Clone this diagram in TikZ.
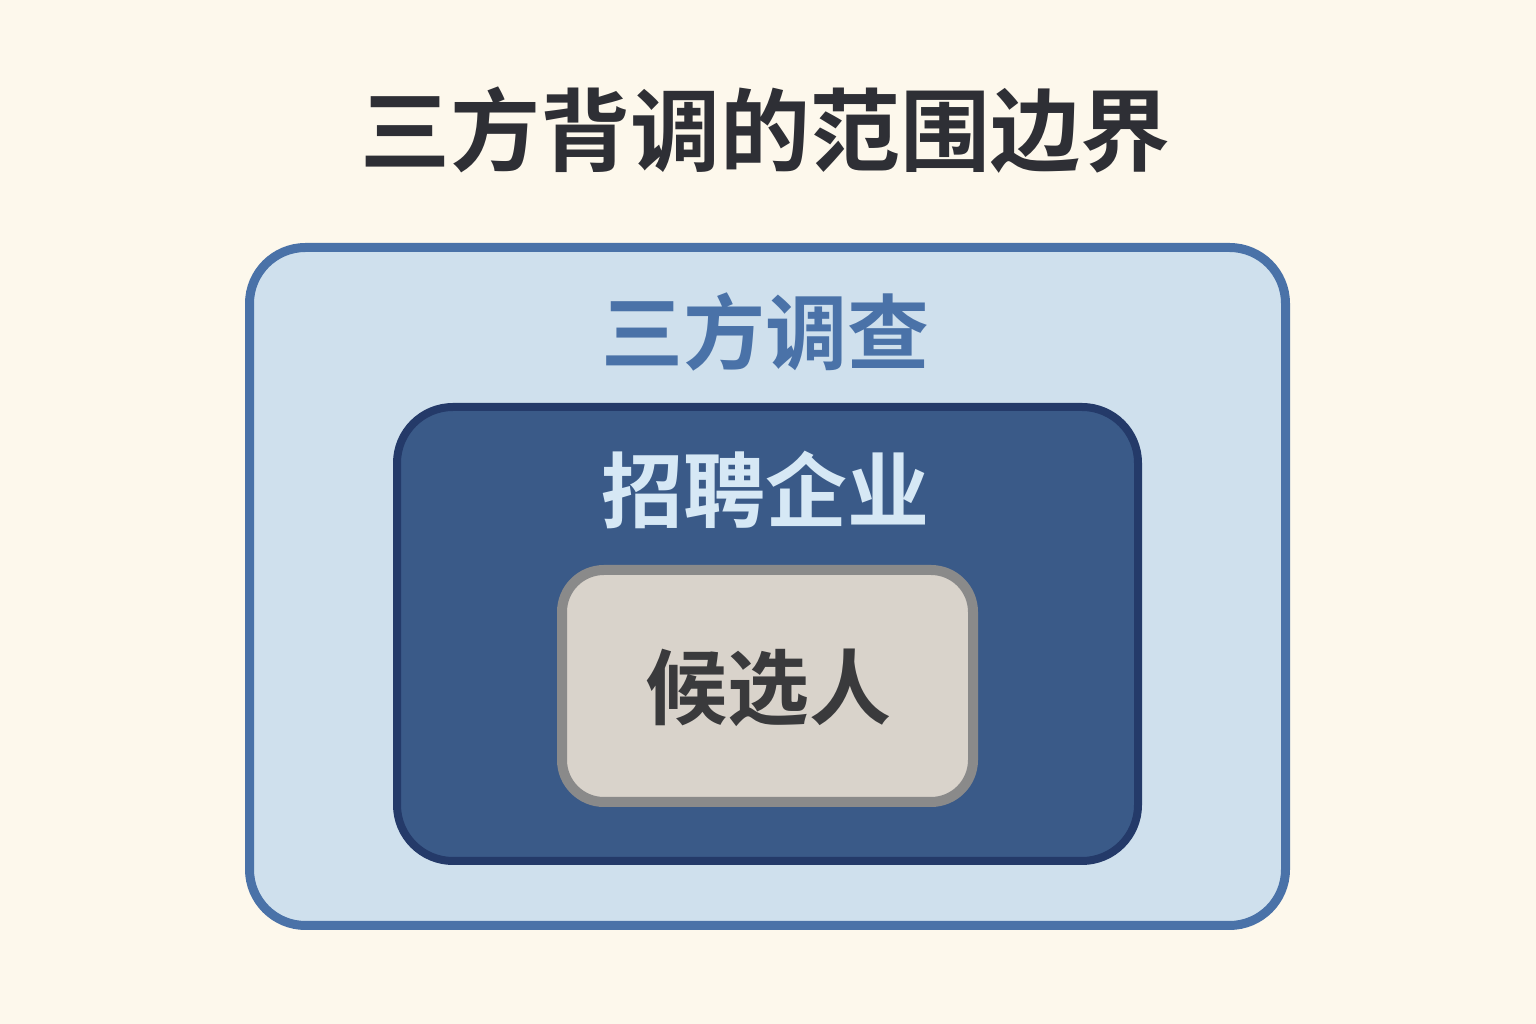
\documentclass[tikz,border=0pt]{standalone}
\usepackage{fontspec}
\newfontfamily\cjk{Noto Sans CJK SC}[BoldFont={Noto Sans CJK SC Bold}]
\definecolor{bgcream}{HTML}{FDF8EC}
\definecolor{outerfill}{HTML}{CFE0ED}
\definecolor{outerline}{HTML}{4A72A8}
\definecolor{innerfill}{HTML}{3A5A88}
\definecolor{innerline}{HTML}{243A69}
\definecolor{corefill}{HTML}{D9D3CB}
\definecolor{coreline}{HTML}{8A8A8A}
\definecolor{titlegray}{HTML}{2E2F35}
\definecolor{lighttext}{HTML}{D6E8F5}
\definecolor{coretext}{HTML}{3A3A3C}
\begin{document}
\begin{tikzpicture}[x=1pt, y=1pt,
  box/.style = {draw, rounded corners=56pt, inner sep=0pt},
  label/.style = {font=\cjk\bfseries\fontsize{82}{82}\selectfont, inner sep=0pt}]
\fill[bgcream] (0,0) rectangle (1536,1024);
\useasboundingbox (0,0) rectangle (1536,1024);

\node[label, text=titlegray, font=\cjk\bfseries\fontsize{90}{90}\selectfont] (title) at (765,894) {三方背调的范围边界};

\node[box, fill=outerfill, draw=outerline, line width=9pt, minimum width=1036pt, minimum height=678pt] (outer) at (767.5,437.5) {};
\node[box, fill=innerfill, draw=innerline, line width=8pt, minimum width=741pt, minimum height=454pt] (inner) at (767.5,390) {};
\node[box, fill=corefill, draw=coreline, line width=10pt, rounded corners=42pt, minimum width=411pt, minimum height=232pt] (core) at (767.5,338) {};

\node[label, text=outerline] (survey) at (765,692) {三方调查};
\node[label, text=lighttext] (firm) at (765,534) {招聘企业};
\node[label, text=coretext] (cand) at (768,336) {候选人};
\end{tikzpicture}
\end{document}
